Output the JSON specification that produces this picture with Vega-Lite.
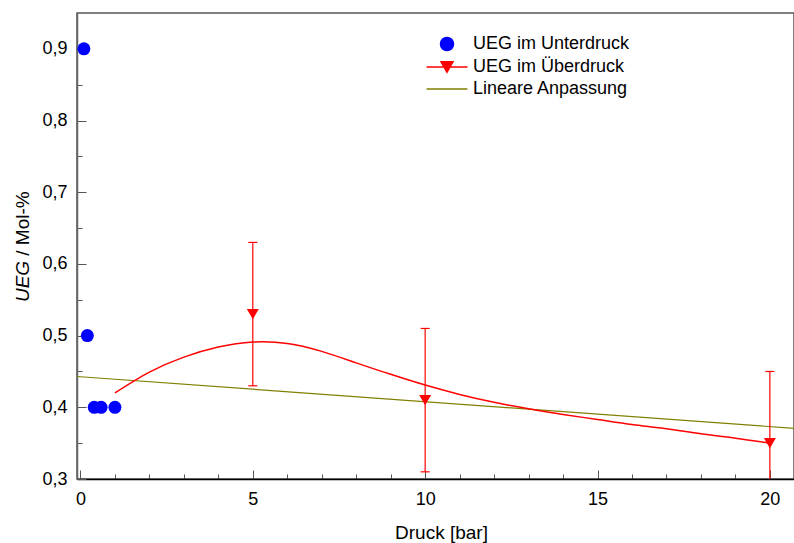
{
  "$schema": "https://vega.github.io/schema/vega-lite/v6.json",
  "width": 717,
  "height": 466,
  "autosize": {"type": "none"},
  "padding": {"left": 77, "top": 13, "right": 0, "bottom": 64},
  "config": {
    "font": "Liberation Sans",
    "locale": {"number": {"decimal": ",", "thousands": ".", "grouping": [3], "currency": ["", " €"]}},
    "view": {"stroke": "#555555", "strokeWidth": 1.5},
    "axis": {
      "labelFont": "Liberation Sans", "labelFontSize": 18, "labelColor": "#000000",
      "titleFont": "Liberation Sans", "titleFontSize": 19, "titleFontWeight": "normal", "titleColor": "#000000",
      "grid": false, "tickColor": "#555555", "domainColor": "#000000", "domainWidth": 1.5
    },
    "legend": {
      "orient": "none", "legendX": 361, "legendY": 22, "padding": 0,
      "labelFont": "Liberation Sans", "labelFontSize": 18, "labelColor": "#000000",
      "symbolSize": 169, "symbolOpacity": 1, "rowPadding": 4, "labelOffset": 17
    }
  },
  "datasets": {
    "unterdruck": [
      {"druck": 0.1, "ueg": 0.9, "serie": "UEG im Unterdruck"},
      {"druck": 0.2, "ueg": 0.5, "serie": "UEG im Unterdruck"},
      {"druck": 0.4, "ueg": 0.4, "serie": "UEG im Unterdruck"},
      {"druck": 0.6, "ueg": 0.4, "serie": "UEG im Unterdruck"},
      {"druck": 1.0, "ueg": 0.4, "serie": "UEG im Unterdruck"}
    ],
    "ueberdruck": [
      {"druck": 5, "ueg": 0.53, "min": 0.43, "max": 0.63, "serie": "UEG im Überdruck"},
      {"druck": 10, "ueg": 0.41, "min": 0.31, "max": 0.51, "serie": "UEG im Überdruck"},
      {"druck": 20, "ueg": 0.35, "min": 0.25, "max": 0.45, "serie": "UEG im Überdruck"}
    ],
    "spline": [
      {"druck": 1, "ueg": 0.420, "serie": "UEG im Überdruck"},
      {"druck": 2, "ueg": 0.449, "serie": "UEG im Überdruck"},
      {"druck": 3, "ueg": 0.470, "serie": "UEG im Überdruck"},
      {"druck": 4, "ueg": 0.484, "serie": "UEG im Überdruck"},
      {"druck": 5, "ueg": 0.491, "serie": "UEG im Überdruck"},
      {"druck": 6, "ueg": 0.489, "serie": "UEG im Überdruck"},
      {"druck": 7, "ueg": 0.478, "serie": "UEG im Überdruck"},
      {"druck": 8, "ueg": 0.462, "serie": "UEG im Überdruck"},
      {"druck": 9, "ueg": 0.446, "serie": "UEG im Überdruck"},
      {"druck": 10, "ueg": 0.431, "serie": "UEG im Überdruck"},
      {"druck": 11, "ueg": 0.418, "serie": "UEG im Überdruck"},
      {"druck": 12, "ueg": 0.407, "serie": "UEG im Überdruck"},
      {"druck": 13, "ueg": 0.398, "serie": "UEG im Überdruck"},
      {"druck": 14, "ueg": 0.390, "serie": "UEG im Überdruck"},
      {"druck": 15, "ueg": 0.383, "serie": "UEG im Überdruck"},
      {"druck": 16, "ueg": 0.376, "serie": "UEG im Überdruck"},
      {"druck": 17, "ueg": 0.370, "serie": "UEG im Überdruck"},
      {"druck": 18, "ueg": 0.363, "serie": "UEG im Überdruck"},
      {"druck": 19, "ueg": 0.357, "serie": "UEG im Überdruck"},
      {"druck": 20, "ueg": 0.350, "serie": "UEG im Überdruck"}
    ],
    "anpassung": [
      {"druck": -0.1, "ueg": 0.443, "serie": "Lineare Anpassung"},
      {"druck": 20.7, "ueg": 0.3707, "serie": "Lineare Anpassung"}
    ]
  },
  "resolve": {"axis": {"x": "independent", "y": "independent"}},
  "layer": [
    {
      "data": {"name": "anpassung"},
      "mark": {"type": "line", "strokeWidth": 1.2, "clip": true},
      "encoding": {
        "x": {"field": "druck", "type": "quantitative",
              "scale": {"domain": [-0.1, 20.7], "nice": false, "zero": false},
              "axis": {"orient": "bottom", "values": [1,2,3,4,6,7,8,9,11,12,13,14,16,17,18,19], "labels": false, "domain": false, "tickSize": -5, "title": null}},
        "y": {"field": "ueg", "type": "quantitative",
              "scale": {"domain": [0.3, 0.95], "nice": false, "zero": false},
              "axis": {"orient": "left", "values": [0.35,0.45,0.55,0.65,0.75,0.85], "labels": false, "domain": false, "tickSize": -5,
                       "title": "/ Mol-%", "titleAngle": -90, "titleBaseline": "middle", "titleAlign": "center", "titleX": -55, "titleY": 210}},
        "color": {"field": "serie", "type": "nominal",
                  "scale": {"domain": ["UEG im Unterdruck", "UEG im Überdruck", "Lineare Anpassung"], "range": ["#0000ff", "#ff0000", "#808000"]},
                  "legend": {"title": null,
                             "encode": {"symbols": {"update": {"stroke": {"scale": "color", "field": "value"}, "strokeWidth": {"value": 1.5}}}}}}
      }
    },
    {
      "data": {"name": "spline"},
      "mark": {"type": "line", "strokeWidth": 1.5, "interpolate": "natural"},
      "encoding": {
        "x": {"field": "druck", "type": "quantitative", "axis": null},
        "y": {"field": "ueg", "type": "quantitative", "axis": null},
        "color": {"field": "serie", "type": "nominal"}
      }
    },
    {
      "data": {"name": "ueberdruck"},
      "mark": {"type": "rule", "strokeWidth": 1.2, "color": "#ff0000", "clip": true},
      "encoding": {
        "x": {"field": "druck", "type": "quantitative", "axis": null},
        "y": {"field": "min", "type": "quantitative", "axis": null},
        "y2": {"field": "max"}
      }
    },
    {
      "data": {"name": "ueberdruck"},
      "mark": {"type": "tick", "orient": "horizontal", "size": 9, "thickness": 1.2, "color": "#ff0000", "opacity": 1, "clip": true},
      "encoding": {
        "x": {"field": "druck", "type": "quantitative", "axis": null},
        "y": {"field": "max", "type": "quantitative", "axis": null}
      }
    },
    {
      "data": {"name": "ueberdruck"},
      "mark": {"type": "tick", "orient": "horizontal", "size": 9, "thickness": 1.2, "color": "#ff0000", "opacity": 1, "clip": true},
      "encoding": {
        "x": {"field": "druck", "type": "quantitative", "axis": null},
        "y": {"field": "min", "type": "quantitative", "axis": null}
      }
    },
    {
      "data": {"name": "ueberdruck"},
      "mark": {"type": "point", "shape": "triangle-down", "filled": true, "size": 144, "opacity": 1},
      "encoding": {
        "x": {"field": "druck", "type": "quantitative", "axis": null},
        "y": {"field": "ueg", "type": "quantitative", "axis": null},
        "color": {"field": "serie", "type": "nominal"}
      }
    },
    {
      "data": {"name": "unterdruck"},
      "mark": {"type": "point", "filled": true, "size": 169, "opacity": 1},
      "encoding": {
        "x": {"field": "druck", "type": "quantitative",
              "axis": {"orient": "bottom", "values": [0, 5, 10, 15, 20], "format": "d", "tickSize": -9, "labelPadding": 20,
                       "title": "Druck [bar]", "titlePadding": 15, "titleX": 364}},
        "y": {"field": "ueg", "type": "quantitative",
              "axis": {"orient": "left", "values": [0.3,0.4,0.5,0.6,0.7,0.8,0.9], "format": ".1f", "tickSize": -9, "labelPadding": 19,
                       "domainColor": "#666666",
                       "title": "UEG", "titleFontStyle": "italic", "titleAngle": -90, "titleBaseline": "middle", "titleAlign": "center", "titleX": -55, "titleY": 268}},
        "color": {"field": "serie", "type": "nominal"},
        "shape": {"field": "serie", "type": "nominal",
                  "scale": {"domain": ["UEG im Unterdruck", "UEG im Überdruck", "Lineare Anpassung"],
                            "range": ["circle", "M-3.15,0H3.15M-0.92,-0.8H0.92L0,0.8Z", "M-3.15,0H3.15"]},
                  "legend": {"title": null}}
      }
    }
  ]
}
